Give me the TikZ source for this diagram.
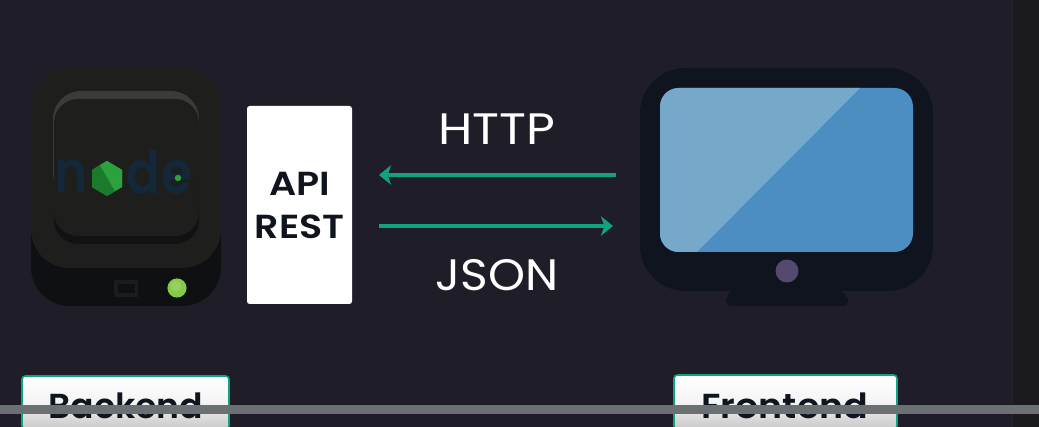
\documentclass[tikz,border=0pt]{standalone}
\usepackage{fontspec}
\setmainfont{Poppins}
\newfontfamily\httpfont[FakeStretch=1.13]{Poppins}
\newfontfamily\jsonfont[FakeStretch=1.07]{Poppins}
\newfontfamily\apifont[FakeStretch=1.14]{Poppins SemiBold}
\newfontfamily\tagfont[FakeStretch=1.0]{Poppins SemiBold}
\newfontfamily\frontfont[FakeStretch=1.05]{Poppins SemiBold}
\newfontfamily\logofont[FakeStretch=0.85]{Poppins SemiBold}
\usetikzlibrary{arrows.meta}
\definecolor{bgc}{HTML}{1F1E28}
\definecolor{sidec}{HTML}{1B1B1F}
\definecolor{srvtop}{HTML}{1E1F1D}
\definecolor{srvbase}{HTML}{0F1012}
\definecolor{srvhi}{HTML}{3B3C3A}
\definecolor{srvsh}{HTML}{121214}
\definecolor{nodeblue}{HTML}{14283A}
\definecolor{nodegreen}{HTML}{2BA23C}
\definecolor{nodegreenD}{HTML}{1C7A2C}
\definecolor{ledc}{HTML}{85C94B}
\definecolor{ledi}{HTML}{98CF5F}
\definecolor{teal}{HTML}{10A37D}
\definecolor{monc}{HTML}{10141E}
\definecolor{scrA}{HTML}{4D8EC2}
\definecolor{scrB}{HTML}{76A8C9}
\definecolor{btnc}{HTML}{54496E}
\definecolor{barc}{HTML}{6B7072}
\definecolor{labelink}{HTML}{10141E}
\definecolor{tagbot}{HTML}{C8C8C8}
\definecolor{tagmid}{HTML}{F4F4F4}
\tikzset{
  x=0.75pt,y=-0.75pt,
  link/.style={draw=teal,line width=3pt,-{Stealth[length=9pt,width=14.5pt,inset=2.5pt]}},
  wtext/.style={text=white,inner sep=0pt,anchor=base},
  apitext/.style={text=labelink,font=\fontsize{25}{25}\selectfont\apifont,inner sep=0pt,anchor=base},
  tagbox/.style={draw=teal,line width=1.2pt,rounded corners=2.5pt,top color=white,bottom color=tagbot,middle color=tagmid},
  tagtext/.style={text=labelink,inner sep=0pt,anchor=base},
  logotext/.style={text=nodeblue,font=\fontsize{44}{44}\selectfont\logofont,inner sep=0pt,anchor=base},
}
\begin{document}
\begin{tikzpicture}
\useasboundingbox (0,0) rectangle (1039,427);
\fill[bgc] (0,0) rectangle (1039,427);
\fill[sidec] (1012,0) rectangle (1039,427);
\draw[black!85,line width=0.75pt] (1012.5,0) -- (1012.5,427);
% server
\fill[srvbase,rounded corners=29pt] (31,90) rectangle (221,306);
\fill[srvtop,rounded corners=29pt] (31,68) rectangle (221,268);
\fill[srvhi,rounded corners=21pt] (53,91) rectangle (199,200);
\fill[srvsh,rounded corners=18pt] (54,150) rectangle (199,244);
\fill[srvtop,rounded corners=18pt] (54,99) rectangle (199,236);
\fill[srvtop!80!srvbase] (114,280) rectangle (138,297);
\fill[srvbase] (118,284) rectangle (135,293);
\fill[ledc] (177,288) circle [radius=7.2pt];
\fill[ledi] (176,286) circle [radius=4pt];
% node logo
\node[logotext] (logoN) at (71,193) {n};
\node[logotext] (logoD) at (143,194) {d};
\node[logotext] (logoE) at (177,194) {e};
\fill[nodegreen] (107,161) -- (122,170) -- (122,187) -- (107,196) -- (92,187) -- (92,170) -- cycle;
\fill[nodegreenD] (92,170) -- (100,165) -- (115,191) -- (107,196) -- (92,187) -- cycle;
\fill[nodegreen] (107,161) -- (122,170) -- (122,187) -- (115,191) -- (100,165) -- cycle;
\fill[nodegreen] (178,178) circle [radius=2.4pt];
% api box
\node[fill=white,rounded corners=2pt,minimum width=78.75pt,minimum height=148.5pt,inner sep=0pt] (api) at (299.5,205) {};
\node[apitext] (apiA) at (299.5,196) {API};
\node[apitext] (apiB) at (299.5,239) {REST};
% monitor
\fill[monc] (735,285) -- (838,285) -- (848,299) -- (848,302) .. controls (848,305) and (846,306) .. (843,306) -- (731,306) .. controls (728,306) and (726,305) .. (726,302) -- (726,299) -- cycle;
\node[fill=monc,rounded corners=34pt,minimum width=219.75pt,minimum height=167.25pt,inner sep=0pt] (mon) at (786.5,179.5) {};
\node[fill=scrA,rounded corners=14pt,minimum width=189.75pt,minimum height=123pt,inner sep=0pt] (scr) at (786.5,170) {};
\begin{scope}
\clip[rounded corners=14pt] (660,88) rectangle (913,252);
\fill[scrB] (660,88) -- (860,88) -- (697,252) -- (660,252) -- cycle;
\end{scope}
\fill[btnc] (787,271) circle [radius=8.6pt];
% connectors
\coordinate (httpR) at (616,175);
\coordinate (httpL) at (379,175);
\coordinate (jsonL) at (379,226);
\coordinate (jsonR) at (613,226);
\draw[link] (httpR) -- (httpL);
\draw[link] (jsonL) -- (jsonR);
\node[wtext,font=\fontsize{33}{33}\selectfont\httpfont] (http) at (497,145) {HTTP};
\node[wtext,font=\fontsize{33}{33}\selectfont\jsonfont] (json) at (497,291) {JSON};
% tags
\shade[tagbox] (22,376) rectangle (229,429);
\shade[tagbox] (674,375) rectangle (897,429);
\node[tagtext,font=\fontsize{26}{26}\selectfont\tagfont] (back) at (126,419) {Backend};
\node[tagtext,font=\fontsize{26}{26}\selectfont\frontfont] (front) at (785,419) {Frontend};
% bar
\fill[barc] (0,405) rectangle (1039,414);
\end{tikzpicture}
\end{document}
